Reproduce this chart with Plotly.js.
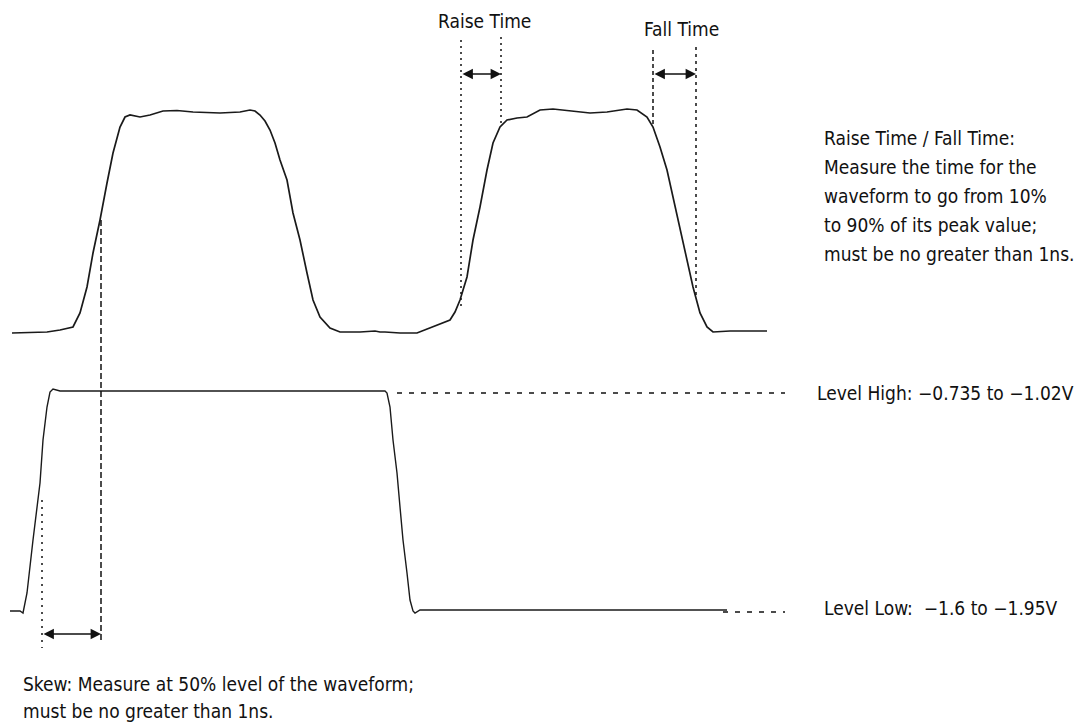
<!DOCTYPE html>
<html>
<head>
<meta charset="utf-8">
<script src="https://cdn.plot.ly/plotly-3.0.1.min.js"></script>
<style>html,body{margin:0;padding:0;background:#fff;}#chart{width:1075px;height:727px;}</style>
</head>
<body>
<div id="chart"></div>
<script>
// Diagram coordinates: x = time position, y = drawing position (downwards)
const topTime  = [12,47,60,73,80,87,93,100,107,113,120,125,130,140,150,163,177,193,220,240,250,255,260,265,270,275,280,287,293,300,307,313,320,330,340,360,375,380,385,400,417,433,450,455,460,467,473,480,487,493,500,507,517,527,540,553,570,590,607,627,637,647,653,660,667,673,680,687,693,700,707,713,730,767];
const topLevel = [333,332,330,327,313,287,253,220,183,153,127,117,115,117,115,111,110.5,112,113,112,110,111,115,121,130,143,160,180,213,240,273,300,317,328,332,332,331,332,332,333,333,327,320,312,300,277,240,207,170,143,127,120,118,117,110,109,111,113,112,109,110,117,127,147,170,197,227,257,287,313,327,332,331,331];

const botTime  = [10,20,23,27,33,40,43,47,50,53,60,385,387,390,393,397,400,403,407,410,413,415,420,727];
const botLevel = [611,611,613,593,540,483,440,407,392,389,391,391,393,407,440,473,507,540,573,600,611,613,610,610];

// Guide line positions
const raiseMarks = [461, 501];
const fallMarks  = [653, 696];
const skewMarks  = [42, 101];
const levelHigh  = 393;
const levelLow   = 612;

const labels = {
  raise: "Raise Time",
  fall: "Fall Time",
  rfNote: ["Raise Time / Fall Time:", "Measure the time for the", "waveform to go from 10%", "to 90% of its peak value;", "must be no greater than 1ns."],
  high: "Level High: \u22120.735 to \u22121.02V",
  low: "Level Low:  \u22121.6 to \u22121.95V",
  skew: ["Skew: Measure at 50% level of the waveform;", "must be no greater than 1ns."]
};

const FONT = "'Liberation Sans Narrow', 'DejaVu Sans Condensed', 'Roboto', sans-serif";

const traces = [
  {x: topTime, y: topLevel, mode: 'lines', line: {color: '#1a1a1a', width: 1.7}, hoverinfo: 'skip'},
  {x: botTime, y: botLevel, mode: 'lines', line: {color: '#1a1a1a', width: 1.4}, hoverinfo: 'skip'}
];

function vline(x, y0, y1, dash) {
  return {type: 'line', xref: 'x', yref: 'y', x0: x, x1: x, y0: y0, y1: y1, line: {color: '#111', width: 1.5, dash: dash}};
}
function hline(y, x0, x1, dash) {
  return {type: 'line', xref: 'x', yref: 'y', x0: x0, x1: x1, y0: y, y1: y, line: {color: '#111', width: 1.5, dash: dash}};
}

const shapes = [
  vline(raiseMarks[0], 40, 308, '2px,4px'),
  vline(raiseMarks[1], 37, 127, '2px,4px'),
  vline(fallMarks[0], 50, 127, '4px,3px'),
  vline(fallMarks[1], 47, 296, '3px,4px'),
  vline(skewMarks[0], 500, 648, '2px,5px'),
  vline(skewMarks[1], 220, 643, '6px,3px'),
  hline(levelHigh, 397, 785, '5px,7px'),
  hline(levelLow, 723, 785, '5px,7px')
];

function arrow(xa, xb, y) {
  return {x: xb, y: y, ax: xa, ay: y, xref: 'x', yref: 'y', axref: 'x', ayref: 'y', text: '', showarrow: true,
          arrowhead: 2, arrowside: 'end+start', arrowsize: 1.6, arrowwidth: 1.3, arrowcolor: '#111', standoff: 0, startstandoff: 0};
}
function txt(x, y, s, anchor, size) {
  return {x: x, y: y, xref: 'x', yref: 'y', text: s, showarrow: false, xanchor: anchor, yanchor: 'middle',
          font: {family: FONT, size: size || 19, color: '#111'}};
}

const annotations = [
  arrow(raiseMarks[0], raiseMarks[1], 74),
  arrow(fallMarks[0], fallMarks[1], 74),
  arrow(skewMarks[0], skewMarks[1], 634),
  txt(484, 21, labels.raise, 'center'),
  txt(681, 29, labels.fall, 'center'),
  txt(815, 393, labels.high, 'left'),
  txt(822, 608, labels.low, 'left')
];
labels.rfNote.forEach((s, i) => annotations.push(txt(822, 138 + 29 * i, s, 'left')));
labels.skew.forEach((s, i) => annotations.push(txt(21, 684 + 27 * i, s, 'left')));

const layout = {
  width: 1075, height: 727,
  margin: {l: 0, r: 0, t: 0, b: 0},
  paper_bgcolor: '#fff', plot_bgcolor: '#fff',
  showlegend: false,
  xaxis: {range: [0, 1075], visible: false, fixedrange: true},
  yaxis: {range: [727, 0], visible: false, fixedrange: true},
  shapes: shapes,
  annotations: annotations
};

Plotly.newPlot('chart', traces, layout, {staticPlot: true, displayModeBar: false});
</script>
</body>
</html>
